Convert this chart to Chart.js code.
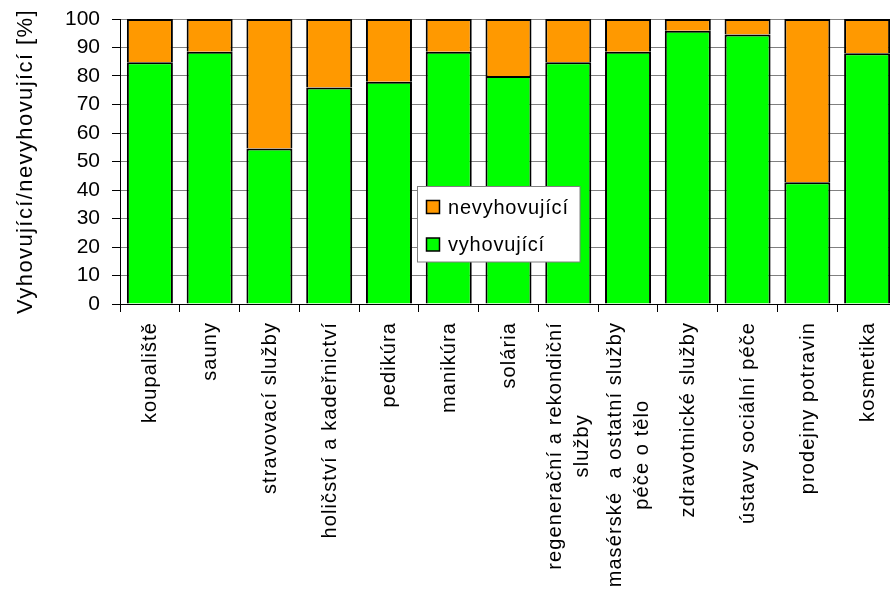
<!DOCTYPE html>
<html>
<head>
<meta charset="utf-8">
<script src="https://cdn.jsdelivr.net/npm/chart.js@4/dist/chart.umd.min.js"></script>
<style>
  html, body { margin: 0; padding: 0; overflow: hidden; background: #fff; width: 890px; height: 603px; }
  canvas { display: block; }
</style>
</head>
<body>
<canvas id="c" width="897" height="603"></canvas>
<script>
// Category labels (each entry is a list of lines)
const categories = [
  ['koupaliště'],
  ['sauny'],
  ['stravovací služby'],
  ['holičství a kadeřnictví'],
  ['pedikúra'],
  ['manikúra'],
  ['solária'],
  ['regenerační a rekondiční', 'služby'],
  ['masérské  a ostatní služby', 'péče o tělo'],
  ['zdravotnické služby'],
  ['ústavy sociální péče'],
  ['prodejny potravin'],
  ['kosmetika']
];

// Share of satisfactory / unsatisfactory results [%]
const vyhovujici   = [84.8, 88.5, 54.6, 76.0, 78.0, 88.5, 80.0, 84.8, 88.5, 95.9, 94.6, 42.7, 88.0];
const nevyhovujici = [15.2, 11.5, 45.4, 24.0, 22.0, 11.5, 20.0, 15.2, 11.5,  4.1,  5.4, 57.3, 12.0];

const seriesNames = ['vyhovující', 'nevyhovující'];
const axisTitle = 'Vyhovující/nevyhovující [%]';
const yMin = 0, yMax = 100, yStep = 10;

const FONT = '"Liberation Sans", Arial, sans-serif';
const GREEN = '#00ff00';
const ORANGE = '#ff9900';

// Draws the rotated category labels, the axis title and the boxed legend
const decor = {
  id: 'decor',
  afterDraw(chart) {
    const ctx = chart.ctx;
    const xs = chart.scales.x;
    const ys = chart.scales.y;
    ctx.save();
    ctx.fillStyle = '#000';

    // category labels, read bottom-to-top, multi-line blocks centred
    ctx.font = '20px ' + FONT;
    ctx.letterSpacing = '1.1px';
    const top = xs.top + 18;
    chart.data.labels.forEach((lines, i) => {
      const cx = xs.getPixelForValue(i);
      const w = Math.max(...lines.map(l => ctx.measureText(l).width));
      lines.forEach((line, k) => {
        const bx = cx + (k - (lines.length - 1) / 2) * 27 + 6.5;
        ctx.save();
        ctx.translate(bx, top + w / 2);
        ctx.rotate(-Math.PI / 2);
        ctx.textAlign = 'center';
        ctx.textBaseline = 'alphabetic';
        ctx.fillText(line, 0, 0);
        ctx.restore();
      });
    });

    // value axis title
    ctx.font = '22px ' + FONT;
    ctx.letterSpacing = '1.4px';
    ctx.save();
    ctx.translate(32, (ys.top + ys.bottom) / 2);
    ctx.rotate(-Math.PI / 2);
    ctx.textAlign = 'center';
    ctx.textBaseline = 'alphabetic';
    ctx.fillText(axisTitle, 0, 0);
    ctx.restore();

    // legend box
    const lx = 417.5, ly = 186.5, lw = 162.5, lh = 75.5;
    ctx.fillStyle = '#fff';
    ctx.fillRect(lx, ly, lw, lh);
    ctx.strokeStyle = '#808080';
    ctx.lineWidth = 1;
    ctx.strokeRect(lx, ly, lw, lh);

    const items = chart.data.datasets.slice().reverse();
    ctx.font = '20px ' + FONT;
    ctx.letterSpacing = '0.8px';
    ctx.textAlign = 'left';
    ctx.textBaseline = 'alphabetic';
    items.forEach((ds, j) => {
      const sy = 200.5 + j * 37.5;
      ctx.fillStyle = ds.backgroundColor;
      ctx.fillRect(426.5, sy, 13, 13);
      ctx.strokeStyle = '#000';
      ctx.lineWidth = 1.5;
      ctx.strokeRect(426.5, sy, 13, 13);
      ctx.fillStyle = '#000';
      ctx.fillText(ds.label, 448, 213.5 + j * 37.5);
    });

    ctx.restore();
  }
};

new Chart(document.getElementById('c'), {
  type: 'bar',
  data: {
    labels: categories,
    datasets: [
      {
        label: seriesNames[0],
        data: vyhovujici,
        backgroundColor: GREEN,
        borderColor: '#000',
        borderWidth: 2,
        barPercentage: 0.77,
        categoryPercentage: 1
      },
      {
        label: seriesNames[1],
        data: nevyhovujici,
        backgroundColor: ORANGE,
        borderColor: '#000',
        borderWidth: 2,
        barPercentage: 0.77,
        categoryPercentage: 1
      }
    ]
  },
  options: {
    responsive: false,
    animation: false,
    devicePixelRatio: 1,
    layout: { padding: { top: 19, left: 0, right: 0, bottom: 0 } },
    plugins: {
      legend: { display: false },
      tooltip: { enabled: false }
    },
    scales: {
      x: {
        stacked: true,
        grid: {
          offset: true,
          drawOnChartArea: false,
          tickLength: 8,
          tickColor: '#000',
          lineWidth: 1
        },
        border: { color: '#000', width: 1 },
        ticks: { display: false },
        afterFit(scale) {
          scale.height = 299;
          scale.paddingLeft = 0;
          scale.paddingRight = 0;
        }
      },
      y: {
        stacked: true,
        min: yMin,
        max: yMax,
        ticks: {
          stepSize: yStep,
          autoSkip: false,
          color: '#000',
          font: { family: FONT, size: 21 },
          padding: 12
        },
        grid: {
          color: '#808080',
          lineWidth: 1,
          tickColor: '#000',
          tickLength: 8
        },
        border: { color: '#000', width: 1 },
        afterFit(scale) {
          scale.width = 120;
          scale.paddingTop = 0;
          scale.paddingBottom = 0;
        }
      }
    }
  },
  plugins: [decor]
});
</script>
</body>
</html>
